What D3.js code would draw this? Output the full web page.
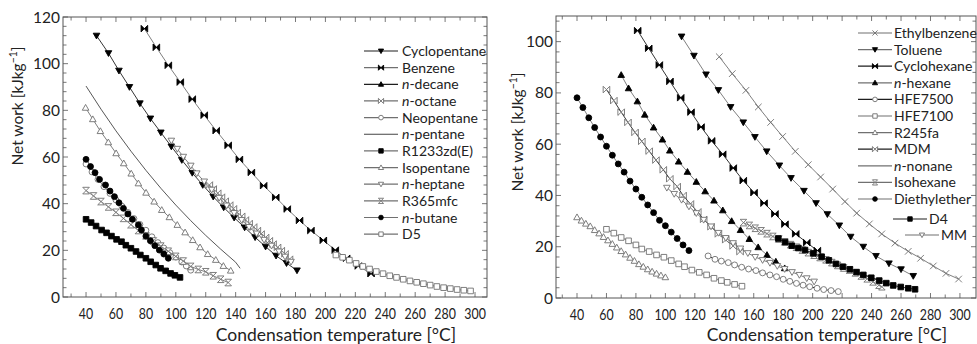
<!DOCTYPE html>
<html>
<head>
<meta charset="utf-8">
<script src="https://cdn.jsdelivr.net/npm/d3@7"></script>
<style>
  body { margin: 0; background: #fff; }
  svg { display: block; font-family: Lato, "Open Sans", sans-serif; }
</style>
</head>
<body>
<svg id="chart" width="977" height="344"></svg>
<script>
// ---- left panel data (condensation temperature [°C], net work [kJ/kg]) ----
const cyclopentaneT = [47, 55, 62, 69, 76, 83, 90, 97, 104, 111, 118, 125, 132, 139, 146, 153, 160, 167, 174, 181];
const cyclopentaneW = [112, 104.5, 97, 90, 83, 76.5, 70.5, 64.5, 58.7, 53.2, 48, 43, 38.4, 34, 29.8, 25.6, 21.6, 17.7, 14.5, 11.4];
const benzeneT = [79, 87, 95, 103, 111, 119, 127, 135, 142.5, 150.5, 158.7, 166.8, 174.5, 182.7, 190.3, 198.6, 206.6, 214.2, 222, 230.5];
const benzeneW = [115, 107, 99.3, 92.1, 84.8, 77.9, 71.3, 65, 59, 53.4, 47.7, 42.7, 37.7, 32.8, 28.5, 24.3, 20.1, 16.6, 13.3, 10];
const ndecaneT = [];
const ndecaneW = [];
const noctaneT = [122.4, 125, 128, 130.5, 133, 136, 138.5, 141, 144, 146.5, 149, 152, 154.5, 157, 160, 162.5, 165, 168, 170.5, 173, 176];
const noctaneW = [48, 46.3, 44.5, 42.8, 41.1, 39.4, 37.8, 36.2, 34.6, 33, 31.5, 30, 28.5, 27, 25.5, 24.1, 22.7, 21.3, 19.9, 18.5, 16.2];
const neopentaneT = [40, 44, 48, 52, 56, 60, 64, 68, 72, 76, 80, 84, 88, 92, 96, 100, 104, 107, 110];
const neopentaneW = [57, 53.6, 50.4, 47.3, 44.4, 41.6, 38.9, 36.2, 33.6, 31.1, 28.6, 25.8, 23.3, 21, 19, 17.1, 15, 13.3, 11.5];
const npentaneT = [40, 50, 60, 70, 80, 90, 100, 110, 120, 130, 140, 143];
const npentaneW = [90.4, 80.5, 71.2, 62.5, 54.3, 46.6, 39.4, 32.7, 26.4, 20.5, 14.9, 12.3];
const r1233T = [40, 43.4, 46.7, 50.4, 53.7, 57, 60.4, 63.7, 66.6, 70, 73.4, 76.3, 80, 83.2, 86.6, 89.8, 93.2, 96.5, 99.4, 102.8];
const r1233W = [33.3, 31.9, 30.4, 28.7, 27.5, 26.1, 24.7, 23.7, 22.2, 20.9, 19.5, 18, 16.6, 15.1, 13.7, 12.3, 11.2, 10.1, 9.3, 8.4];
const isopentaneT = [39.7, 44.5, 49.6, 54.9, 60.1, 65.2, 70.2, 75, 80.1, 85.5, 90.6, 95.7, 101, 106.2, 111.3, 116.2, 121.3, 126.7, 131.8, 136.7];
const isopentaneW = [81.1, 76.2, 71.1, 66.3, 61.6, 57.3, 52.9, 48.7, 44.7, 40.9, 37.3, 34.2, 30.9, 27.7, 24.4, 21.3, 18.4, 15.9, 13.3, 11.3];
const nheptaneT = [97, 101, 105, 110, 114, 119, 124, 129, 134, 139, 144, 149, 154, 159, 164, 169, 173, 177];
const nheptaneW = [67, 63.5, 60.1, 56.3, 53, 49.5, 46, 42.5, 39.2, 36, 33, 30, 27.2, 24.5, 22, 19.5, 17.3, 15.1];
const r365T = [40, 45, 50, 55, 60, 65, 70, 75, 80, 85, 90, 95, 100, 105, 110, 115, 120, 125, 130, 135];
const r365W = [45.6, 43.3, 40.9, 38.6, 36.3, 33.7, 31, 28.5, 26.2, 24, 21.8, 19.6, 17.4, 15.4, 13.1, 11.8, 10.8, 9.1, 7.6, 6.2];
const nbutaneT = [40, 43, 46, 49, 53, 56, 59, 62, 65, 68, 71, 75, 77, 80, 83, 86, 89, 92, 95];
const nbutaneW = [59, 55.9, 53.3, 50.4, 48, 45.4, 43, 40.4, 38, 35.6, 33.3, 30.9, 28.7, 26.1, 24.1, 22, 20.1, 18.4, 16.6];
const d5T = [207, 211.5, 216, 220.5, 225, 229.5, 234, 238.5, 243, 247.5, 252, 256.5, 261, 265.5, 270, 274.5, 279, 283.5, 288, 292.5, 297];
const d5W = [18, 17, 15.8, 14.4, 13.1, 12, 10.9, 10, 9.1, 8.4, 7.6, 6.9, 6.3, 5.7, 5.1, 4.5, 4, 3.6, 3.2, 2.9, 2.6];

// ---- right panel data ----
const ethylbenzeneT = [136.6, 145.4, 154.7, 163.1, 171.5, 179.6, 188.2, 197, 205.4, 213.6, 221.9, 229.9, 238.5, 246.9, 255.9, 264.9, 273.3, 281.9, 290.5, 299.1];
const ethylbenzeneW = [94.1, 87.5, 81, 74.5, 68.5, 63, 57.2, 52, 47.2, 42.5, 37.6, 33.1, 28.9, 25, 21.4, 18.2, 15.5, 12.5, 9.6, 7.4];
const tolueneT = [111, 119.4, 127.6, 136, 144.3, 152.9, 160.8, 168.8, 177.4, 185.3, 194.1, 202.3, 210, 218.1, 225.8, 234.4, 243, 251.8, 260, 268.3];
const tolueneW = [102, 94.5, 87.2, 81.1, 74.5, 68.5, 62.8, 57.2, 51.7, 46.8, 41.8, 37, 32.7, 28.3, 23.9, 20, 16.4, 13.5, 11.2, 8.6];
const cyclohexaneT = [81.2, 88.7, 95.9, 103.1, 110.4, 117.4, 124.2, 131.4, 138.9, 146.1, 152.9, 160.2, 167, 174.4, 181.2, 188.5, 196, 203.2];
const cyclohexaneW = [104.3, 97.4, 90.9, 84.5, 78.1, 72.5, 66.7, 61.3, 56.1, 50.7, 45.8, 41.1, 37, 32.8, 28.8, 25, 21.6, 18.5];
const nhexaneT = [70, 75, 81, 86, 92, 98, 103, 109, 115, 121, 127, 133, 139, 145, 151, 157, 163, 169, 175, 181];
const nhexaneW = [87, 81.8, 76.7, 71.5, 66.5, 61.8, 57.5, 53.2, 49.2, 45.3, 41.6, 38, 34.2, 30, 26.5, 23, 19.8, 16.8, 14.2, 11.6];
const hfe7500T = [129, 133.7, 138, 142.7, 147, 151.8, 156.5, 161.5, 166, 171, 175.5, 180, 184.5, 189, 193.5, 198, 203, 207.5, 212.5, 217.4];
const hfe7500W = [16.4, 15.1, 14.4, 13.8, 12.9, 12, 11.3, 10.7, 9.8, 9, 8.3, 7.3, 6.5, 5.7, 5, 4.4, 3.8, 3.3, 2.9, 2.5];
const hfe7100T = [60, 65, 70, 75, 80, 84, 89, 94, 99, 104, 109, 113, 118, 123, 128, 133, 138, 142, 147, 152];
const hfe7100W = [26.8, 25.3, 23.6, 22.3, 20.7, 19.1, 18.1, 16.8, 15.9, 14.6, 13.3, 12.2, 10.9, 10, 9, 7.7, 6.8, 6.1, 5.3, 4.6];
const r245faT = [40, 43, 46, 49, 52, 55, 58, 61, 64, 67, 70, 73, 76, 79, 82, 85, 88, 91, 94, 97, 100];
const r245faW = [31.5, 30.2, 29, 28, 26.5, 25.2, 23.8, 22.5, 21.1, 19.7, 18.3, 17, 15.7, 14.5, 13.2, 12.2, 11.2, 10.3, 9.5, 8.8, 8.1];
const mdmT = [60, 65, 70, 74.6, 79.4, 84, 89, 93.6, 98.6, 103, 108, 112, 117, 122, 126, 131, 136, 141, 146, 150.7];
const mdmW = [81.3, 77, 72.5, 68.5, 64.6, 61.1, 57.3, 53.8, 50, 46.5, 43.5, 40, 36.7, 33.6, 30.7, 27.8, 25, 22.7, 20.3, 18.1];
const nnonaneT = [];
const nnonaneW = [];
const isohexaneT = [153, 157, 161, 165, 169, 173, 177, 181, 185, 189, 193, 197, 201, 205, 209, 213, 217, 221, 225, 229, 233, 237, 241, 245, 247];
const isohexaneW = [29.4, 28.3, 27.2, 26.2, 25.1, 24, 23, 21.9, 20.8, 19.8, 18.7, 17.7, 16.7, 15.8, 14.9, 13.8, 12.7, 11.7, 10.9, 9.8, 8.6, 7.5, 6.3, 5, 4.4];
const diethyletherT = [40, 44, 48, 52, 56, 60, 64, 68, 72, 76, 80, 84, 88, 92, 96, 100, 104, 108, 112, 116];
const diethyletherW = [78.1, 74.3, 70.3, 66.5, 62.8, 59.2, 55.7, 52.3, 49.1, 45.6, 42.5, 39.3, 36.3, 33.3, 30.3, 28.2, 25.7, 23.2, 20.7, 18.5];
const d4T = [176.7, 181.3, 185.8, 190.3, 194.8, 200.5, 206.1, 211, 215.8, 220.5, 225.3, 229.8, 234.4, 239.8, 245.2, 250, 254.7, 259.8, 264.9, 269.5];
const d4W = [23.2, 21.8, 20.4, 19.5, 18.7, 17.4, 16.1, 14.7, 13.3, 12.2, 11.2, 10.1, 9, 7.9, 6.8, 5.8, 4.9, 4.3, 3.8, 3.4];
const mmT = [101, 106, 111, 116, 121, 126, 131, 136, 141, 146, 151, 156, 161, 166, 171, 176, 181, 186, 191, 196, 201];
const mmW = [43, 40.6, 38.3, 35.7, 33.1, 30.5, 27.9, 25.4, 23.4, 21.4, 19.3, 17.5, 16, 14.8, 13.7, 12.5, 11.3, 10.1, 9, 7.7, 6.4];

const xTickLabels = [40, 60, 80, 100, 120, 140, 160, 180, 200, 220, 240, 260, 280, 300];
const leftYTicks = [0, 20, 40, 60, 80, 100, 120];
const rightYTicks = [0, 20, 40, 60, 80, 100];

const GRAY = "#707070", DARK = "#1e1e1e";

const leftSeries = [
  {pre: "", name: "Cyclopentane", t: cyclopentaneT, w: cyclopentaneW, m: "tridown", fill: "#000", stroke: "#000", line: DARK},
  {pre: "", name: "Benzene", t: benzeneT, w: benzeneW, m: "bowtie", fill: "#000", stroke: "#000", line: GRAY},
  {pre: "n", name: "-decane", t: ndecaneT, w: ndecaneW, m: "tri", fill: "#000", stroke: "#000", line: DARK},
  {pre: "n", name: "-octane", t: noctaneT, w: noctaneW, m: "bowtie", fill: "#fff", stroke: GRAY, line: GRAY},
  {pre: "", name: "Neopentane", t: neopentaneT, w: neopentaneW, m: "circle", fill: "#fff", stroke: GRAY, line: GRAY},
  {pre: "n", name: "-pentane", t: npentaneT, w: npentaneW, m: "none", fill: "none", stroke: "none", line: "#444"},
  {pre: "", name: "R1233zd(E)", t: r1233T, w: r1233W, m: "square", fill: "#000", stroke: "#000", line: GRAY},
  {pre: "", name: "Isopentane", t: isopentaneT, w: isopentaneW, m: "tri", fill: "#fff", stroke: GRAY, line: GRAY},
  {pre: "n", name: "-heptane", t: nheptaneT, w: nheptaneW, m: "tridown", fill: "#fff", stroke: GRAY, line: GRAY},
  {pre: "", name: "R365mfc", t: r365T, w: r365W, m: "hourx", fill: "#fff", stroke: GRAY, line: GRAY},
  {pre: "n", name: "-butane", t: nbutaneT, w: nbutaneW, m: "circle", fill: "#000", stroke: "#000", line: GRAY},
  {pre: "", name: "D5", t: d5T, w: d5W, m: "square", fill: "#fff", stroke: GRAY, line: GRAY}
];

const rightSeries = [
  {pre: "", name: "Ethylbenzene", t: ethylbenzeneT, w: ethylbenzeneW, m: "times", fill: "none", stroke: GRAY, line: GRAY},
  {pre: "", name: "Toluene", t: tolueneT, w: tolueneW, m: "tridown", fill: "#000", stroke: "#000", line: GRAY},
  {pre: "", name: "Cyclohexane", t: cyclohexaneT, w: cyclohexaneW, m: "bowtie", fill: "#000", stroke: "#000", line: DARK},
  {pre: "n", name: "-hexane", t: nhexaneT, w: nhexaneW, m: "tri", fill: "#000", stroke: "#000", line: GRAY},
  {pre: "", name: "HFE7500", t: hfe7500T, w: hfe7500W, m: "circle", fill: "#fff", stroke: GRAY, line: DARK},
  {pre: "", name: "HFE7100", t: hfe7100T, w: hfe7100W, m: "square", fill: "#fff", stroke: GRAY, line: GRAY},
  {pre: "", name: "R245fa", t: r245faT, w: r245faW, m: "tri", fill: "#fff", stroke: GRAY, line: GRAY},
  {pre: "", name: "MDM", t: mdmT, w: mdmW, m: "bowtie", fill: "#fff", stroke: GRAY, line: DARK},
  {pre: "n", name: "-nonane", t: nnonaneT, w: nnonaneW, m: "none", fill: "none", stroke: "none", line: GRAY},
  {pre: "", name: "Isohexane", t: isohexaneT, w: isohexaneW, m: "hourx", fill: "#fff", stroke: GRAY, line: GRAY},
  {pre: "", name: "Diethylether", t: diethyletherT, w: diethyletherW, m: "circle", fill: "#000", stroke: "#000", line: GRAY},
  {pre: "", name: "D4", t: d4T, w: d4W, m: "square", fill: "#000", stroke: "#000", line: DARK},
  {pre: "", name: "MM", t: mmT, w: mmW, m: "tridown", fill: "#fff", stroke: GRAY, line: GRAY}
];

function markerPath(type, r) {
  switch (type) {
    case "tri": return `M0,${-r}L${r},${r * 0.75}L${-r},${r * 0.75}Z`;
    case "tridown": return `M0,${r}L${r},${-r * 0.75}L${-r},${-r * 0.75}Z`;
    case "bowtie": return `M${-r},${-r}L0,0L${-r},${r}ZM${r},${-r}L0,0L${r},${r}Z`;
    case "hourx": return `M${-r},${-r}L${r},${-r}L${-r},${r}L${r},${r}Z`;
    case "square": { const s = r * 0.85; return `M${-s},${-s}H${s}V${s}H${-s}Z`; }
    case "times": return `M${-r},${-r}L${r},${r}M${r},${-r}L${-r},${r}`;
    case "circle": return d3.symbol(d3.symbolCircle, Math.PI * r * r * 0.8)();
    default: return "";
  }
}

const svg = d3.select("#chart");

function drawPanel(cfg) {
  const x = d3.scaleLinear().domain(cfg.xDomain).range([cfg.left, cfg.right]);
  const y = d3.scaleLinear().domain(cfg.yDomain).range([cfg.bottom, cfg.top]);
  const g = svg.append("g");

  // frame
  g.append("rect")
    .attr("x", cfg.left).attr("y", cfg.top)
    .attr("width", cfg.right - cfg.left).attr("height", cfg.bottom - cfg.top)
    .attr("fill", "none").attr("stroke", "#555").attr("stroke-width", 1);

  const xMinor = d3.range(30, 301, 10);
  const yMinor = d3.range(0, cfg.yDomain[1] + 0.1, 4);

  // inward ticks on all four sides
  const tickG = g.append("g").attr("stroke", "#555").attr("stroke-width", 0.8);
  xMinor.forEach(v => {
    const len = xTickLabels.includes(v) ? 5 : 3.5;
    tickG.append("line").attr("x1", x(v)).attr("x2", x(v)).attr("y1", cfg.bottom).attr("y2", cfg.bottom - len);
    tickG.append("line").attr("x1", x(v)).attr("x2", x(v)).attr("y1", cfg.top).attr("y2", cfg.top + len);
  });
  yMinor.forEach(v => {
    const len = cfg.yTicks.includes(v) ? 5 : 3.5;
    tickG.append("line").attr("y1", y(v)).attr("y2", y(v)).attr("x1", cfg.left).attr("x2", cfg.left + len);
    tickG.append("line").attr("y1", y(v)).attr("y2", y(v)).attr("x1", cfg.right).attr("x2", cfg.right - len);
  });

  // tick labels (x labels are horizontally condensed as in the reference)
  g.append("g").selectAll("text").data(xTickLabels).join("text")
    .attr("transform", d => `translate(${x(d)},${cfg.bottom + 22}) scale(0.8,1)`)
    .attr("text-anchor", "middle").attr("font-size", 15.5).attr("fill", "#222")
    .text(d => d);
  g.append("g").selectAll("text").data(cfg.yTicks).join("text")
    .attr("x", cfg.left - 3).attr("y", d => y(d) + 5.5)
    .attr("text-anchor", "end").attr("font-size", 15.5).attr("fill", "#222")
    .text(d => d);

  // axis titles
  g.append("text")
    .attr("x", cfg.xTitleX).attr("y", 340.5)
    .attr("text-anchor", "middle").attr("font-size", 17.5).attr("fill", "#222")
    .text("Condensation temperature [°C]");
  const yt = g.append("text")
    .attr("transform", `translate(${cfg.yTitleX},${cfg.yTitleY}) rotate(-90)`)
    .attr("text-anchor", "middle").attr("font-size", 15.5).attr("fill", "#222");
  yt.append("tspan").text("Net work [kJkg");
  yt.append("tspan").attr("font-size", 10.5).attr("dy", -6.5).text("−1");
  yt.append("tspan").attr("dy", 6.5).text("]");

  // series
  const line = d3.line().x(d => x(d[0])).y(d => y(d[1]));
  cfg.series.forEach(s => {
    const pts = s.t.map((t, i) => [t, s.w[i]]);
    if (!pts.length) return;
    g.append("path").datum(pts).attr("d", line)
      .attr("fill", "none").attr("stroke", s.line).attr("stroke-width", 0.9);
    if (s.m === "none") return;
    g.append("g").selectAll("path").data(pts).join("path")
      .attr("transform", d => `translate(${x(d[0])},${y(d[1])})`)
      .attr("d", markerPath(s.m, 3.3))
      .attr("fill", s.fill).attr("stroke", s.stroke).attr("stroke-width", 0.9);
  });

  // legend
  const lg = g.append("g");
  cfg.series.forEach((s, i) => {
    const pos = cfg.legendPos(i);
    const row = lg.append("g");
    row.append("line").attr("x1", pos.x0).attr("x2", pos.x1).attr("y1", pos.y).attr("y2", pos.y)
      .attr("stroke", s.line).attr("stroke-width", 1.2);
    if (s.m !== "none") {
      row.append("path").attr("transform", `translate(${(pos.x0 + pos.x1) / 2},${pos.y})`)
        .attr("d", markerPath(s.m, 2.6))
        .attr("fill", s.fill).attr("stroke", s.stroke).attr("stroke-width", 0.9);
    }
    const t = row.append("text").attr("x", pos.tx).attr("y", pos.y + 5)
      .attr("font-size", 14).attr("fill", "#222");
    if (s.pre) t.append("tspan").attr("font-style", "italic").text(s.pre);
    t.append("tspan").text(s.name);
  });
}

drawPanel({
  left: 63, right: 487, top: 17, bottom: 297,
  xDomain: [24.6, 308], yDomain: [0, 120], yTicks: leftYTicks,
  series: leftSeries, yTitleX: 23, yTitleY: 106, xTitleX: 336,
  legendPos: i => ({x0: 364, x1: 398, tx: 402, y: 51 + i * 16.65})
});

drawPanel({
  left: 556, right: 976, top: 16, bottom: 298,
  xDomain: [25.74, 310.9], yDomain: [0, 110], yTicks: rightYTicks,
  series: rightSeries, yTitleX: 523, yTitleY: 132, xTitleX: 827,
  legendPos: i => {
    if (i === 11) return {x0: 893, x1: 927, tx: 929, y: 219};
    if (i === 12) return {x0: 905, x1: 939, tx: 941, y: 235};
    return {x0: 858, x1: 892, tx: 894, y: 33 + i * 16.6};
  }
});
</script>
</body>
</html>
